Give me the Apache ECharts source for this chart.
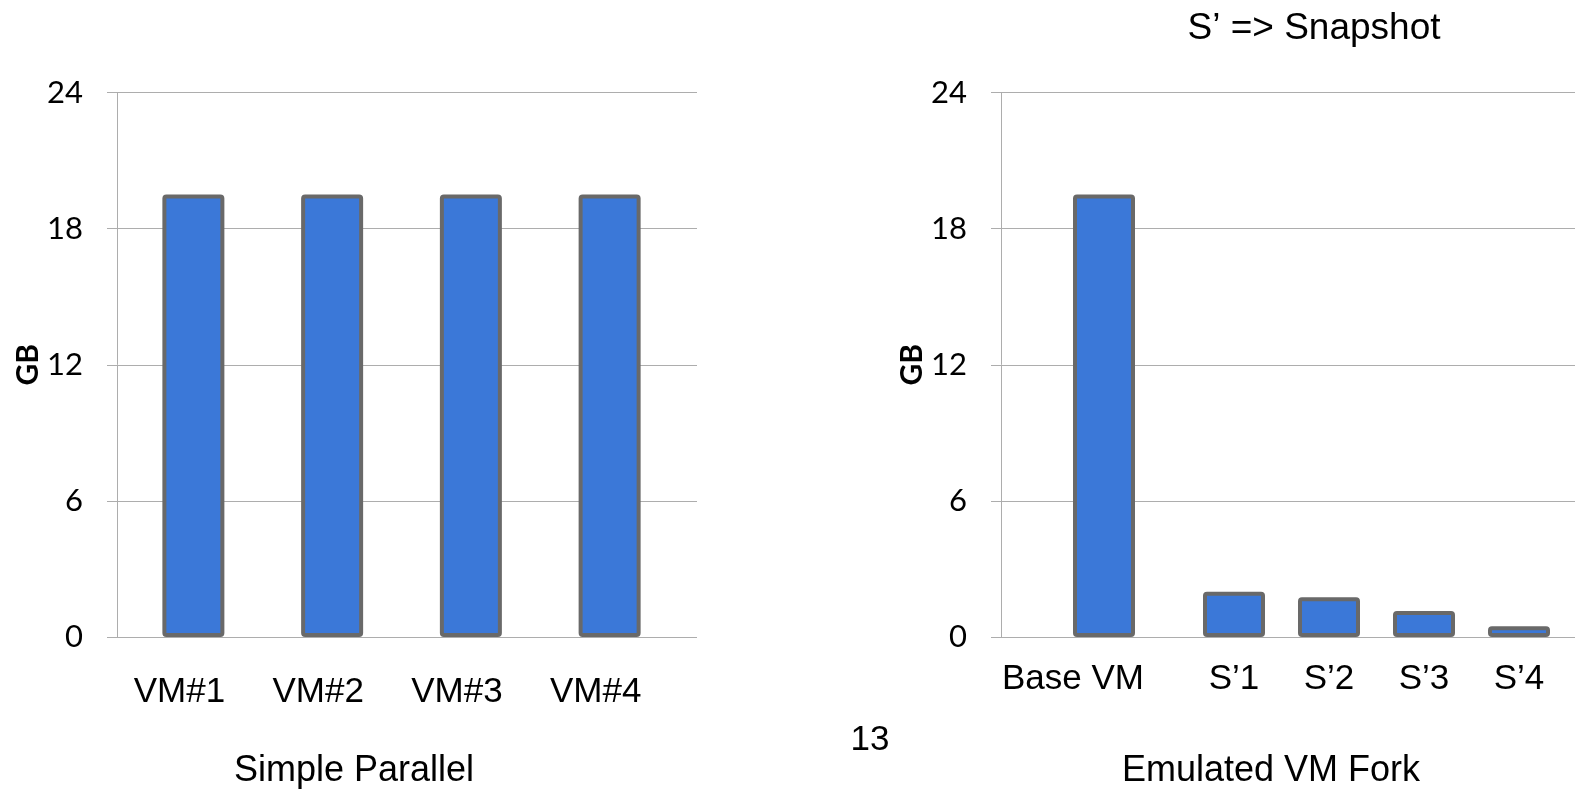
<!DOCTYPE html>
<html>
<head>
<meta charset="utf-8">
<script src="https://cdn.jsdelivr.net/npm/echarts@6/dist/echarts.min.js"></script>
<style>
html,body{margin:0;padding:0;background:#fff;}
#main{width:1575px;height:790px;}
</style>
</head>
<body>
<div id="main"></div>
<script>
// ---- data ----
const leftCategories = ['VM#1', 'VM#2', 'VM#3', 'VM#4'];
const leftValues = [19.5, 19.5, 19.5, 19.5];
const baseCategories = ['Base VM'];
const baseValues = [19.5];
const snapCategories = ['S\u20191', 'S\u20192', 'S\u20193', 'S\u20194'];
const snapValues = [2.0, 1.75, 1.15, 0.47];
const yMin = 0, yMax = 24, yInterval = 6;
const leftTitle = 'Simple Parallel';
const rightTitle = 'Emulated VM Fork';
const rightNote = 'S\u2019 => Snapshot';
const pageNumber = '13';
const yName = 'GB';

// ---- styles ----
const GRID_COLOR = '#adadad';
const BAR_COLOR = '#3b78d8';
const BAR_BORDER = '#696969';
const ARIAL = '"Liberation Sans", Arial, sans-serif';
const CAL = 'Lato, "Open Sans", sans-serif';
const TOP = 92.5, H = 544.5;

function frameY(gridIndex) {
  return {
    type: 'value', gridIndex, min: yMin, max: yMax, interval: yInterval,
    name: yName, nameLocation: 'middle', nameGap: 74, nameRotate: 90,
    nameTextStyle: { fontFamily: CAL, fontWeight: 'bold', fontSize: 30, color: '#000' },
    axisLine: { show: true, lineStyle: { color: GRID_COLOR, width: 1 } },
    axisTick: { show: true, length: 10, lineStyle: { color: GRID_COLOR } },
    axisLabel: { fontFamily: CAL, fontSize: 31, color: '#000', margin: 34 },
    splitLine: { show: true, lineStyle: { color: GRID_COLOR, width: 1 } }
  };
}
function hiddenY(gridIndex) {
  return { type: 'value', gridIndex, min: yMin, max: yMax, interval: yInterval, show: false, splitLine: { show: false } };
}
function frameX(gridIndex) {
  return { type: 'category', gridIndex, data: [''], show: false };
}
function barX(gridIndex, data, margin, shift) {
  return {
    type: 'category', gridIndex, data,
    axisLine: { show: false }, axisTick: { show: false },
    axisLabel: { fontFamily: ARIAL, fontSize: 35, color: '#000', margin, padding: [0, shift, 0, 0] }
  };
}
function barSeries(idx, data) {
  return {
    type: 'bar', xAxisIndex: idx, yAxisIndex: idx, data, barWidth: 62,
    itemStyle: { color: BAR_COLOR, borderColor: BAR_BORDER, borderWidth: 4, borderRadius: 2 },
    silent: true, animation: false
  };
}

const chart = echarts.init(document.getElementById('main'), null, { renderer: 'canvas' });
chart.setOption({
  backgroundColor: '#fff',
  animation: false,
  grid: [
    { left: 117, top: TOP, width: 580, height: H },   // left frame
    { left: 124, top: TOP, width: 555, height: H },   // left bars
    { left: 1001, top: TOP, width: 574, height: H },  // right frame
    { left: 1044, top: TOP, width: 120, height: H },  // base VM bar
    { left: 1186.5, top: TOP, width: 380, height: H } // snapshot bars
  ],
  xAxis: [
    frameX(0),
    barX(1, leftCategories, 38, 28),
    frameX(2),
    barX(3, baseCategories, 25, 62),
    barX(4, snapCategories, 25, 0)
  ],
  yAxis: [frameY(0), hiddenY(1), frameY(2), hiddenY(3), hiddenY(4)],
  series: [
    barSeries(1, leftValues),
    barSeries(3, baseValues),
    barSeries(4, snapValues)
  ],
  graphic: [
    { type: 'text', x: 354, y: 771, silent: true,
      style: { text: leftTitle, font: '36px ' + ARIAL, fill: '#000', textAlign: 'center', textVerticalAlign: 'middle' } },
    { type: 'text', x: 1271, y: 771, silent: true,
      style: { text: rightTitle, font: '36px ' + ARIAL, fill: '#000', textAlign: 'center', textVerticalAlign: 'middle' } },
    { type: 'text', x: 1314, y: 29, silent: true,
      style: { text: rightNote, font: '37px ' + ARIAL, fill: '#000', textAlign: 'center', textVerticalAlign: 'middle' } },
    { type: 'text', x: 870, y: 740, silent: true,
      style: { text: pageNumber, font: '35px ' + ARIAL, fill: '#000', textAlign: 'center', textVerticalAlign: 'middle' } }
  ]
});
</script>
</body>
</html>
